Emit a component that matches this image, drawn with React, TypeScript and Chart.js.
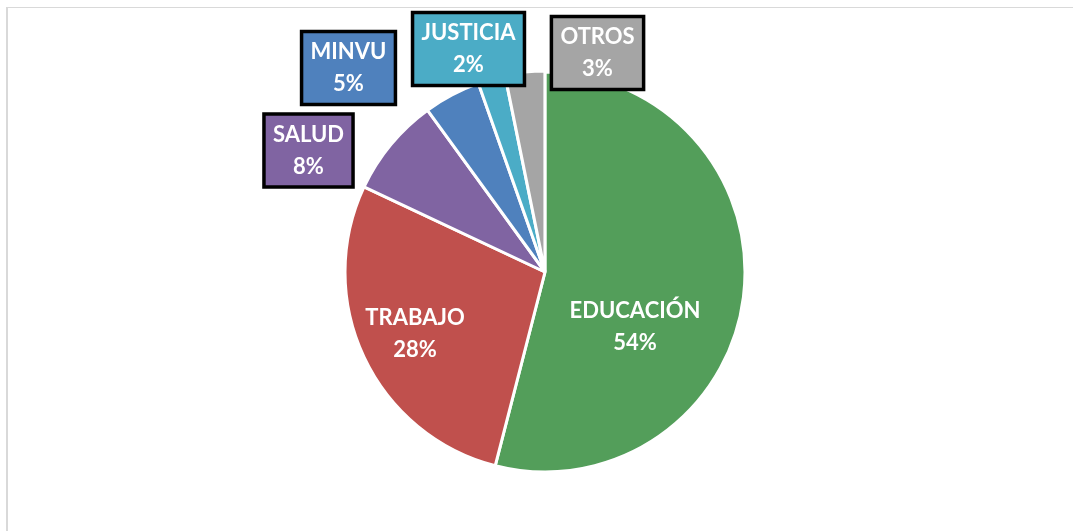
import React, { useEffect, useRef } from "react";
import { Chart, registerables } from "chart.js";

Chart.register(...registerables);

const categories = ["EDUCACIÓN", "TRABAJO", "SALUD", "MINVU", "JUSTICIA", "OTROS"];
const values = [54, 28, 8, 4.6, 2.2, 3.2];
const colors = ["#539E5A", "#C0504D", "#8064A2", "#4F81BD", "#4BACC6", "#A5A5A5"];
const boxed = [false, false, true, true, true, true];
// label anchor offsets, in units of the pie radius, relative to the pie centre
const labelOffsets: [number, number][] = [
  [0.45, 0.275],
  [-0.65, 0.31],
  [-1.1825, -0.6075],
  [-0.9825, -1.02],
  [-0.3825, -1.115],
  [0.2625, -1.095],
];

const FONT = "bold 22px Lato, 'Open Sans', sans-serif";

const labelPlugin = {
  id: "pieLabels",
  afterDatasetsDraw(chart: any) {
    const meta = chart.getDatasetMeta(0);
    const arc0 = meta.data[0];
    if (!arc0) return;
    const cx = arc0.x;
    const cy = arc0.y;
    const r = arc0.outerRadius;
    const total = values.reduce((a, b) => a + b, 0);
    const ctx = chart.ctx;
    ctx.save();
    ctx.font = FONT;
    ctx.textAlign = "center";
    ctx.textBaseline = "middle";
    categories.forEach((cat, i) => {
      const x = cx + labelOffsets[i][0] * r;
      const y = cy + labelOffsets[i][1] * r;
      const pct = Math.round((values[i] / total) * 100) + "%";
      if (boxed[i]) {
        const tw = Math.max(ctx.measureText(cat).width, ctx.measureText(pct).width);
        const w = tw + 18;
        const h = 73;
        ctx.fillStyle = colors[i];
        ctx.fillRect(x - w / 2, y - h / 2, w, h);
        ctx.lineWidth = 3.5;
        ctx.strokeStyle = "#000000";
        ctx.strokeRect(x - w / 2, y - h / 2, w, h);
      }
      ctx.fillStyle = "#FFFFFF";
      ctx.fillText(cat, x, y - 16);
      ctx.fillText(pct, x, y + 16);
    });
    ctx.restore();
  },
};

export default function App() {
  const ref = useRef<HTMLCanvasElement | null>(null);
  useEffect(() => {
    if (!ref.current) return;
    const chart = new Chart(ref.current, {
      type: "pie",
      data: {
        labels: categories,
        datasets: [
          {
            data: values,
            backgroundColor: colors,
            borderColor: "#FFFFFF",
            borderWidth: 3,
            offset: [0, 0, 0, 0, 0, 2],
          },
        ],
      },
      options: {
        animation: false,
        responsive: false,
        maintainAspectRatio: false,
        radius: 200,
        layout: { padding: { left: 345, right: 328, top: 72, bottom: 59 } },
        plugins: {
          legend: { display: false },
          tooltip: { enabled: false },
        },
      } as any,
      plugins: [labelPlugin],
    });
    return () => chart.destroy();
  }, []);
  return (
    <div style={{ position: "fixed", left: 0, top: 0, width: 1073, height: 531, background: "#fff", overflow: "hidden" }}>
      <div
        style={{
          position: "absolute",
          left: 6,
          top: 7,
          width: 1200,
          height: 700,
          borderTop: "1px solid #d9d9d9",
          borderLeft: "2px solid #d9d9d9",
        }}
      />
      <canvas ref={ref} width={1073} height={531} style={{ position: "absolute", left: 0, top: 0 }} />
    </div>
  );
}
